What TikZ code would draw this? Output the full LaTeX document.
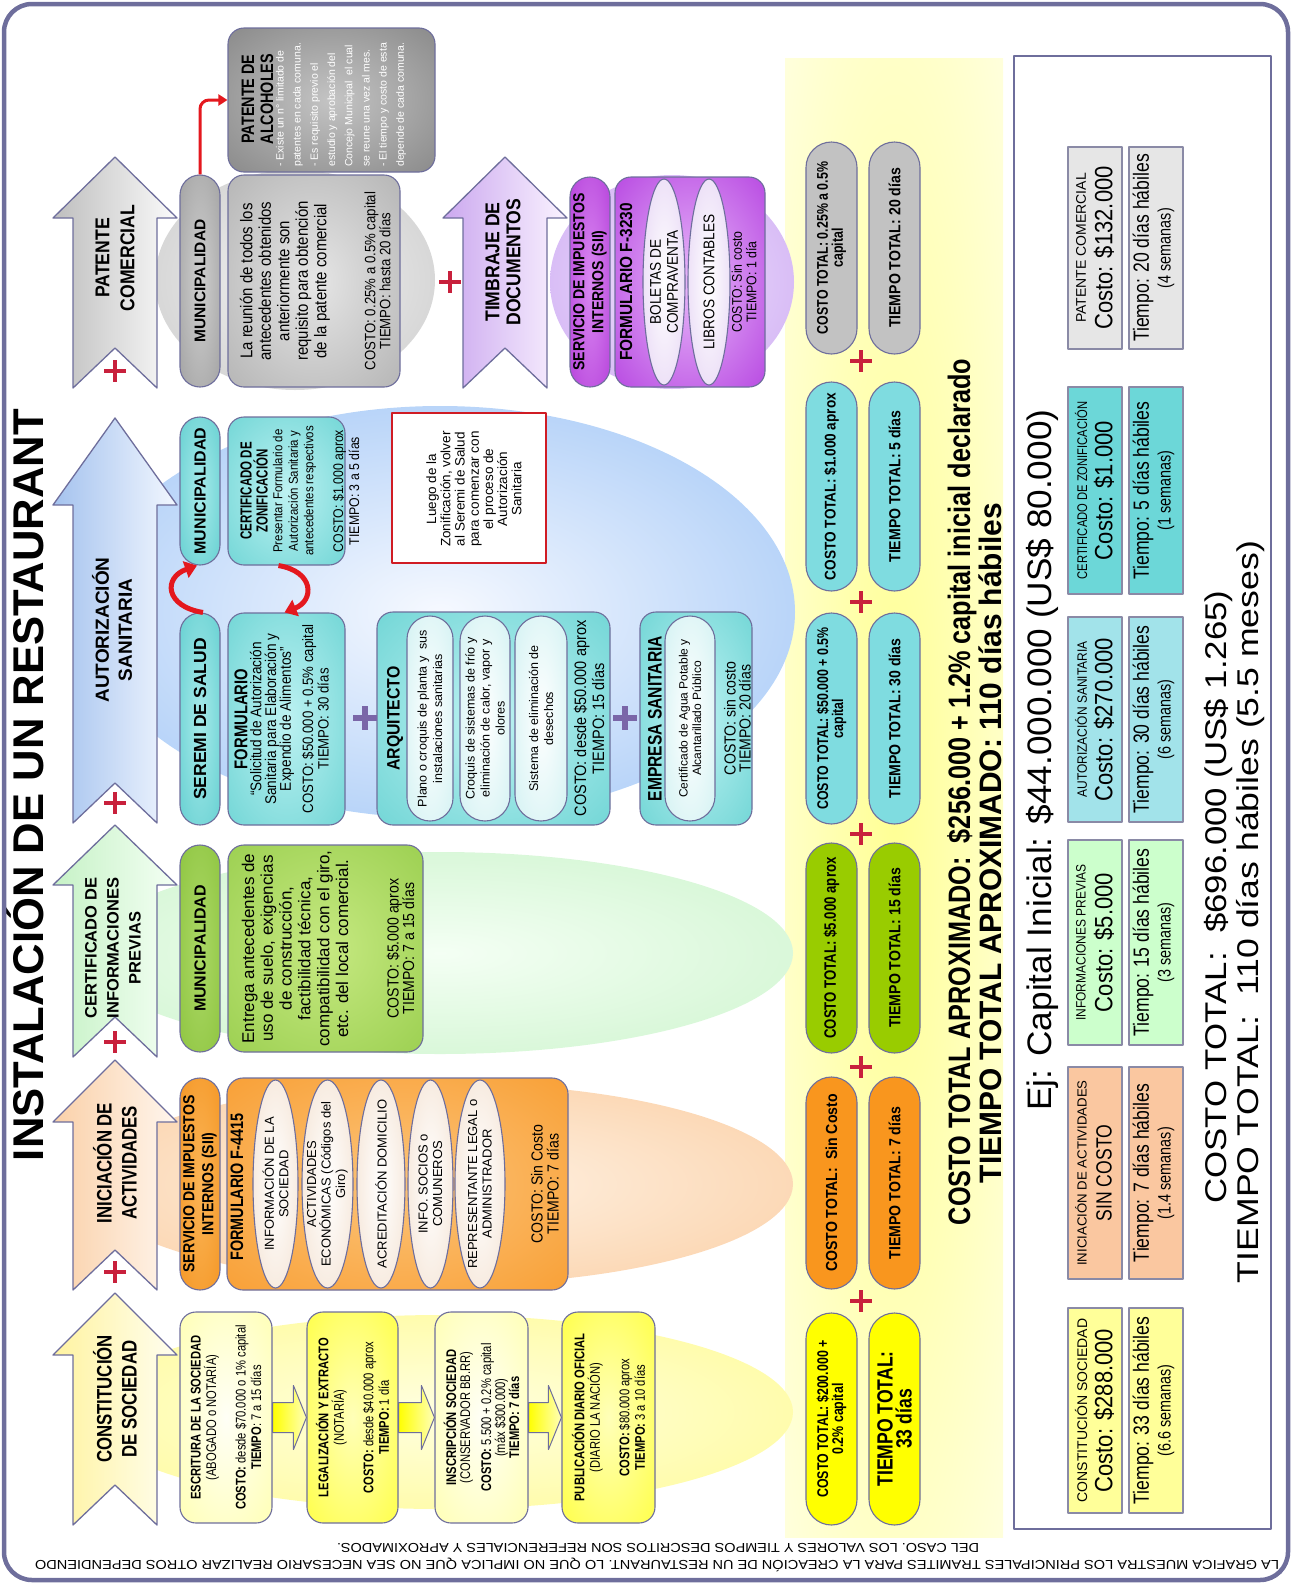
\documentclass[tikz,border=0pt]{standalone}
\usepackage{fontspec}
\usepackage{graphicx}
\setmainfont{Liberation Sans}
\newfontfamily\FA{Liberation Sans}
\newfontfamily\FB{Liberation Sans}[FakeStretch=0.88]
\newfontfamily\FC{Liberation Sans}[FakeStretch=0.8]
\newfontfamily\FD{Liberation Sans}[FakeStretch=0.72]
\usetikzlibrary{shapes.geometric,shapes.misc,calc,arrows.meta}
\newcommand\fsz[2]{\fontsize{#1}{#2}\selectfont}

\definecolor{slate}{HTML}{6E6E9C}
\definecolor{plusred}{HTML}{C8203C}
\definecolor{plusvio}{HTML}{7A66A8}
\definecolor{arred}{HTML}{E4181E}
\definecolor{notered}{HTML}{D01C24}
\definecolor{yeI}{HTML}{FFFFE0}\definecolor{yeO}{HTML}{FFF97A}
\definecolor{oeI}{HTML}{FFF2E4}\definecolor{oeO}{HTML}{F8C08A}
\definecolor{geI}{HTML}{F4FFF4}\definecolor{geO}{HTML}{BFF0BF}
\definecolor{beI}{HTML}{F6F9FF}\definecolor{beO}{HTML}{7CB0F2}
\definecolor{greI}{HTML}{F2F2F2}\definecolor{greO}{HTML}{BDBDBD}
\definecolor{peI}{HTML}{EEDFFC}\definecolor{peO}{HTML}{C49CF0}
\definecolor{totI}{HTML}{FFFF94}\definecolor{totO}{HTML}{FFFFFA}
\definecolor{pyI}{HTML}{FFFFF6}\definecolor{pyO}{HTML}{FFFF9C}
\definecolor{byI}{HTML}{FFFFB8}\definecolor{byO}{HTML}{FFFF1E}
\definecolor{obI}{HTML}{FCC47A}\definecolor{obO}{HTML}{F7921C}
\definecolor{opI}{HTML}{FBB455}\definecolor{opO}{HTML}{F28C14}
\definecolor{gbI}{HTML}{C6E981}\definecolor{gbO}{HTML}{8CC63F}
\definecolor{gpI}{HTML}{ABD865}\definecolor{gpO}{HTML}{84BE34}
\definecolor{tbI}{HTML}{BDF2F2}\definecolor{tbO}{HTML}{55CBCB}
\definecolor{tpI}{HTML}{A6EAEA}\definecolor{tpO}{HTML}{4EC6C8}
\definecolor{gybI}{HTML}{E6E6E6}\definecolor{gybO}{HTML}{A2A2A2}
\definecolor{gypI}{HTML}{CFCFCF}\definecolor{gypO}{HTML}{929292}
\definecolor{alI}{HTML}{C4C4C4}\definecolor{alO}{HTML}{737373}
\definecolor{pbI}{HTML}{E8B8FA}\definecolor{pbO}{HTML}{A51FD8}
\definecolor{ppI}{HTML}{DA88F2}\definecolor{ppO}{HTML}{A828D2}
\definecolor{woO}{HTML}{F0D8C2}
\definecolor{wtO}{HTML}{C2EDEE}
\definecolor{wpO}{HTML}{DCC4F0}
\definecolor{tyel}{HTML}{FFFF00}
\definecolor{tora}{HTML}{F9961E}
\definecolor{tgre}{HTML}{99CC00}
\definecolor{tcya}{HTML}{7FDCE0}
\definecolor{tgra}{HTML}{C2C2C2}
\definecolor{sY}{HTML}{FFFF99}
\definecolor{sP}{HTML}{FAC7A0}
\definecolor{sG}{HTML}{CCFFCC}
\definecolor{sC}{HTML}{A2E3EA}
\definecolor{sT}{HTML}{6CD7D8}
\definecolor{sGr}{HTML}{E6E6E6}
\definecolor{sumline}{HTML}{8A8AA6}
\definecolor{arY1}{HTML}{FFF3A0}\definecolor{arY2}{HTML}{FFFEF0}
\definecolor{arO1}{HTML}{FAD0A8}\definecolor{arO2}{HTML}{FFF6EE}
\definecolor{arG1}{HTML}{C6F2C6}\definecolor{arG2}{HTML}{F4FFF4}
\definecolor{arB1}{HTML}{A4C2EE}\definecolor{arB2}{HTML}{F2F7FF}
\definecolor{arGy1}{HTML}{BEBEBE}\definecolor{arGy2}{HTML}{FBFBFB}
\definecolor{arP1}{HTML}{CBA8EF}\definecolor{arP2}{HTML}{FAF3FF}

\newcommand\mkrad[3]{\pgfdeclareradialshading{#1}{\pgfpoint{0bp}{0bp}}{color(0bp)=(#2); color(50bp)=(#3)}}
\mkrad{radYE}{yeI}{yeO}
\mkrad{radOE}{oeI}{oeO}
\mkrad{radGE}{geI}{geO}
\mkrad{radBE}{beI}{beO}
\mkrad{radGrE}{greI}{greO}
\mkrad{radPE}{peI}{peO}
\mkrad{radTot}{totI}{totO}
\mkrad{radPY}{pyI}{pyO}
\mkrad{radBY}{byI}{byO}
\mkrad{radOB}{obI}{obO}
\mkrad{radOP}{opI}{opO}
\mkrad{radGB}{gbI}{gbO}
\mkrad{radGP}{gpI}{gpO}
\mkrad{radTB}{tbI}{tbO}
\mkrad{radTP}{tpI}{tpO}
\mkrad{radGyB}{gybI}{gybO}
\mkrad{radGyP}{gypI}{gypO}
\mkrad{radAl}{alI}{alO}
\mkrad{radPB}{pbI}{pbO}
\mkrad{radPP}{ppI}{ppO}
\mkrad{radWO}{white}{woO}
\mkrad{radWT}{white}{wtO}
\mkrad{radWP}{white}{wpO}

\tikzset{
 lbl/.style={rotate=90, align=center, inner sep=0pt},
 ol/.style={draw=slate, line width=1.1pt},
 rbox/.style={rectangle, rounded corners=16pt, ol},
 pill/.style={rounded rectangle, ol},
 ell/.style={ellipse, ol},
 rad/.style={shade, shading=#1},
 bigA/.style 2 args={draw=slate, line width=1.3pt, left color=#1, right color=#2},
 yarr/.style={draw=slate, line width=1pt, left color=tyel, right color=byI},
 redarr/.style={draw=arred, line width=5pt, -{Triangle[length=12pt,width=17pt]}},
 redline/.style={draw=arred, line width=3pt, rounded corners=9pt, -{Triangle[length=9pt,width=11pt]}},
 rplus/.style={draw=plusred, line width=4pt},
 vplus/.style={draw=plusvio, line width=5.5pt},
 tot/.style={rounded rectangle, ol},
 sbox/.style={rectangle, draw=sumline, line width=1.5pt},
}

\newcommand\shp[6]{\node[#6, rotate=90, inner sep=0pt, minimum width={((#5)-(#3))*1pt}, minimum height={((#4)-(#2))*1pt}] (#1) at ({((#2)+(#4))/2},{((#3)+(#5))/2}) {};}
\newcommand\bx[8]{\shp{#1}{#2}{#3}{#4}{#5}{#6}\node[lbl, font={#7}] (#1-t) at (#1.center) {#8};}
\newcommand\bigarr[6]{\draw[#6] (#1,#2) -- ({#1+62},#3) -- ({#1+42},#3) -- ({#1+42},#4) -- (#1,#5) -- ({#1-42},#4) -- ({#1-42},#3) -- ({#1-62},#3) -- cycle;}
\newcommand\pls[4]{\draw[#4] ({#1-#3},#2) -- ({#1+#3},#2) (#1,{#2-#3}) -- (#1,{#2+#3});}
\newcommand\yarrow[2]{\draw[yarr] ($(#1.south)+(0,-15)$) -- ($(#2.north)+(-13,-15)$) -- ($(#2.north)+(-13,-32)$) -- (#2.north) -- ($(#2.north)+(-13,32)$) -- ($(#2.north)+(-13,15)$) -- ($(#1.south)+(0,15)$) -- cycle;}
\newcommand\sumrow[9]{%
 \shp{#1c}{1068}{#2}{1122}{#3}{sbox, fill=#4}
 \node[lbl, font={#5}] (#1c-a) at (1081,{((#2)+(#3))/2}) {#6};
 \node[lbl, font=\FB\fsz{25}{25}] (#1c-b) at (1104,{((#2)+(#3))/2}) {#7};
 \shp{#1t}{1129}{#2}{1183}{#3}{sbox, fill=#4}
 \node[lbl, font=\FC\fsz{22}{22}] (#1t-a) at (1143,{((#2)+(#3))/2}) {#8};
 \node[lbl, font=\FC\fsz{18}{18}] (#1t-b) at (1166,{((#2)+(#3))/2}) {#9};}

\begin{document}
\begin{tikzpicture}[x=1pt,y=-1pt,line join=round]
\useasboundingbox (0,0) rectangle (1295,1585);

% totals background
\shade[shading=radTot] (785,58) rectangle (1003,1537);

% band ellipses
\shade[shading=radYE] (440,1412) ellipse (353 and 97);
\shade[shading=radOE] (440,1184) ellipse (353 and 101);
\shade[shading=radGE] (440,953) ellipse (353 and 101);
\shade[shading=radBE] (440,612) ellipse (355 and 206);
\shade[shading=radGrE] (295,280) ellipse (140 and 110);
\shade[shading=radPE] (672,282) ellipse (122 and 107);

% big arrows
\bigarr{115}{1293}{1355}{1525}{1485}{bigA={arY1}{arY2}}
\bigarr{115}{1060}{1122}{1290}{1250}{bigA={arO1}{arO2}}
\bigarr{115}{825}{885}{1057}{1017}{bigA={arG1}{arG2}}
\bigarr{115}{418}{505}{823}{783}{bigA={arB1}{arB2}}
\bigarr{115}{157}{218}{388}{348}{bigA={arGy1}{arGy2}}
\bigarr{505}{157}{218}{388}{348}{bigA={arP1}{arP2}}
\node[lbl, font=\FC\bfseries\fsz{21}{25}] (lConst) at (115,1399) {CONSTITUCIÓN\\DE SOCIEDAD};
\node[lbl, font=\FC\bfseries\fsz{21}{25}] (lInic) at (115,1163) {INICIACIÓN DE\\ACTIVIDADES};
\node[lbl, font=\FA\bfseries\fsz{16.5}{22}] (lCert) at (113,948) {CERTIFICADO DE\\INFORMACIONES\\PREVIAS};
\node[lbl, font=\FA\bfseries\fsz{19}{23}] (lAuto) at (112,630) {AUTORIZACIÓN\\SANITARIA};
\node[lbl, font=\FB\bfseries\fsz{20}{25}] (lPat) at (115,258) {PATENTE\\COMERCIAL};
\node[lbl, font=\FB\bfseries\fsz{20}{21}] (lTimb) at (503,262) {TIMBRAJE DE\\DOCUMENTOS};
\pls{115}{1272}{11}{rplus}
\pls{115}{1042}{11}{rplus}
\pls{115}{803}{11}{rplus}
\pls{115}{371}{11}{rplus}
\pls{450}{282}{11}{rplus}

% ===== band 1: constitucion
\bx{b1}{180}{1312}{272}{1523}{rbox, rad=radPY}{\FC\fsz{14}{15.5}}{\textbf{ESCRITURA DE LA SOCIEDAD}\\(ABOGADO o NOTARÍA)\\[14pt]\textbf{COSTO:} desde \$70.000 o 1\% capital\\\textbf{TIEMPO}: 7 a 15 días}
\bx{b2}{307}{1312}{398}{1523}{rbox, rad=radBY}{\FC\fsz{14}{15.5}}{\textbf{LEGALIZACIÓN Y EXTRACTO}\\(NOTARÍA)\\[14pt]\textbf{COSTO:} desde \$40.000 aprox\\\textbf{TIEMPO:} 1 día}
\bx{b3}{435}{1312}{528}{1523}{rbox, rad=radPY}{\FC\fsz{14}{14}}{\textbf{INSCRIPCIÓN SOCIEDAD}\\(CONSERVADOR BB.RR)\\[7pt]\textbf{COSTO:} 5.500 + 0.2\% capital\\(máx \$300.000)\\\textbf{TIEMPO: 7 días}}
\bx{b4}{562}{1312}{655}{1523}{rbox, rad=radBY}{\FC\fsz{14}{15.5}}{\textbf{PUBLICACIÓN DIARIO OFICIAL}\\(DIARIO LA NACIÓN)\\[14pt]\textbf{COSTO:} \$80.000 aprox\\\textbf{TIEMPO:} 3 a 10 días}
\yarrow{b1}{b2}
\yarrow{b2}{b3}
\yarrow{b3}{b4}

% ===== band 2: iniciacion
\bx{sii}{180}{1078}{220}{1290}{pill, rad=radOP}{\FB\bfseries\fsz{16}{19}}{SERVICIO DE IMPUESTOS\\INTERNOS (SII)}
\shp{f44}{227}{1078}{568}{1290}{rbox, rad=radOB}
\node[lbl, font=\FC\bfseries\fsz{18}{18}] (f44-t) at (237,1187) {FORMULARIO F-4415};
\bx{i1}{253}{1080}{298}{1288}{ell, rad=radWO}{\FA\fsz{13}{14.5}}{INFORMACIÓN DE LA\\SOCIEDAD}
\bx{i2}{302}{1080}{353}{1288}{ell, rad=radWO}{\FA\fsz{13}{14.5}}{ACTIVIDADES\\ECONÓMICAS (Códigos del\\Giro)}
\bx{i3}{357}{1080}{405}{1288}{ell, rad=radWO}{\FA\fsz{13}{14.5}}{ACREDITACIÓN DOMICILIO}
\bx{i4}{408}{1080}{453}{1288}{ell, rad=radWO}{\FA\fsz{13}{14.5}}{INFO. SOCIOS o\\COMUNEROS}
\bx{i5}{455}{1080}{505}{1288}{ell, rad=radWO}{\FA\fsz{13}{14.5}}{REPRESENTANTE LEGAL o\\ADMINISTRADOR}
\node[lbl, font=\FB\fsz{16}{16}] (f44-c) at (545,1184) {COSTO: Sin Costo\\TIEMPO: 7 días};

% ===== band 3: certificado
\bx{muniC}{180}{845}{220}{1052}{pill, rad=radGP}{\FA\bfseries\fsz{16}{19}}{MUNICIPALIDAD}
\shp{ipb}{228}{845}{423}{1052}{rbox, rad=radGB}
\node[lbl, font=\FA\fsz{17}{18.8}] (ipb-t) at (295,948.5) {Entrega antecedentes de\\uso de suelo, exigencias\\de construcción,\\factibilidad técnica,\\compatibilidad con el giro,\\etc. del local comercial.};
\node[lbl, font=\FB\fsz{16}{15.5}] (ipb-c) at (400.5,948.5) {COSTO: \$5.000 aprox\\TIEMPO: 7 a 15 días};

% ===== band 4: autorizacion
\bx{muniA}{180}{417}{220}{565}{pill, rad=radTP}{\FA\bfseries\fsz{16}{19}}{MUNICIPALIDAD}
\bx{seremi}{180}{613}{220}{825}{pill, rad=radTP}{\FA\bfseries\fsz{17.5}{19}}{SEREMI DE SALUD}
\shp{zon}{228}{417}{345}{565}{rbox, rad=radTB}
\node[lbl, font=\FD\bfseries\fsz{16}{16}] (zon-t) at (254,491) {CERTIFICADO DE\\ZONIFICACIÓN};
\node[lbl, font=\FB\fsz{13}{15.5}] (zon-d) at (294.5,491) {Presentar Formulario de\\Autorización Sanitaria y\\antecedentes respectivos};
\node[lbl, font=\FB\fsz{14}{16}] (zon-c) at (346,491) {COSTO: \$1.000 aprox\\TIEMPO: 3 a 5 días};
\shp{form}{228}{613}{345}{825}{rbox, rad=radTB}
\node[lbl, font=\FC\bfseries\fsz{18.5}{18}] (form-t) at (241,719) {FORMULARIO};
\node[lbl, font=\FB\fsz{15.5}{14.8}] (form-d) at (272,719) {“Solicitud de Autorización\\Sanitaria para Elaboración y\\Expendio de Alimentos”};
\node[lbl, font=\FB\fsz{15}{15.5}] (form-c) at (315.5,719) {COSTO: \$50.000 + 0.5\% capital\\TIEMPO: 30 días};
\shp{note}{392}{413}{546}{563}{rectangle, draw=notered, line width=2.6pt, fill=white}
\node[lbl, font=\FA\fsz{13.5}{14.2}] (note-t) at (474,489) {Luego de la\\Zonificación, volver\\al Seremi de Salud\\para comenzar con\\el proceso de\\Autorización\\Sanitaria};
\shp{arq}{377}{612}{610}{825}{rbox, rad=radTB}
\node[lbl, font=\FB\bfseries\fsz{18}{18}] (arq-t) at (395,718.5) {ARQUITECTO};
\bx{a1}{407}{616}{453}{821}{pill, rad=radWT}{\FA\fsz{12.5}{15.5}}{Plano o croquis de planta y\ \ sus\\instalaciones sanitarias}
\bx{a2}{460}{616}{510}{821}{pill, rad=radWT}{\FA\fsz{12.5}{15}}{Croquis de sistemas de frío y\\eliminación de calor, vapor y\\olores}
\bx{a3}{515}{616}{567}{821}{pill, rad=radWT}{\FA\fsz{12.5}{15}}{Sistema de eliminación de\\desechos}
\node[lbl, font=\FB\fsz{16.5}{18}] (arq-c) at (589,718.5) {COSTO: desde \$50.000 aprox\\TIEMPO: 15 días};
\shp{emp}{640}{612}{752}{825}{rbox, rad=radTB}
\node[lbl, font=\FC\bfseries\fsz{19.5}{19}] (emp-t) at (655,718.5) {EMPRESA SANITARIA};
\bx{e1}{665}{616}{715}{821}{pill, rad=radWT}{\FA\fsz{12}{13.5}}{Certificado de Agua Potable y\\Alcantarillado Público}
\node[lbl, font=\FB\fsz{16}{15}] (emp-c) at (737.5,718.5) {COSTO: sin costo\\TIEMPO: 20 días};
\pls{365}{718}{12}{vplus}
\pls{625}{718}{12}{vplus}
\draw[redarr] ($(seremi.east)+(3,0)$) .. controls +(-38,-6) and +(-34,12) .. ($(muniA.west)+(-3,0)$);
\draw[redarr] ($(zon.west)+(-8,0)$) .. controls +(36,6) and +(30,-12) .. ($(form.east)+(-2,0)$);

% ===== band 5: patente
\bx{muniP}{180}{175}{220}{387}{pill, rad=radGyP}{\FA\bfseries\fsz{15.5}{19}}{MUNICIPALIDAD}
\shp{pat}{228}{175}{400}{387}{rbox, rad=radGyB}
\node[lbl, font=\FB\fsz{17}{18.5}] (pat-t) at (285,281) {La reunión de todos los\\antecedentes obtenidos\\anteriormente son\\requisito para obtención\\de la patente comercial};
\node[lbl, font=\FB\fsz{15}{15}] (pat-c) at (377.5,281) {COSTO: 0.25\% a 0.5\% capital\\TIEMPO: hasta 20 días};
\shp{alc}{228}{28}{435}{172}{rbox, rad=radAl}
\node[lbl, font=\FC\bfseries\fsz{18}{19}] (alc-t) at (257.5,99) {PATENTE DE\\ALCOHOLES};
\node[rotate=90, align=left, inner sep=0pt, anchor=west, text=white, font=\FA\fsz{10.5}{17.2}] (alc-d) at (341,167) {- Existe un n° limitado de\\patentes en cada comuna.\\- Es requisito previo el\\estudio y aprobación del\\Concejo Municipal\ \ el cual\\se reune una vez al mes.\\- El tiempo y costo de esta\\depende de cada comuna.};
\draw[redline] (muniP.east) |- (alc.north);

% ===== timbraje
\bx{siiT}{570}{177}{610}{387}{pill, rad=radPP}{\FB\bfseries\fsz{16}{19}}{SERVICIO DE IMPUESTOS\\INTERNOS (SII)}
\shp{f32}{615}{177}{765}{387}{rbox, rad=radPB}
\node[lbl, font=\FB\bfseries\fsz{17.5}{18}] (f32-t) at (626,282) {FORMULARIO F-3230};
\bx{t1}{643}{179}{685}{385}{ell, rad=radWP}{\FB\fsz{15.5}{17}}{BOLETAS DE\\COMPRAVENTA}
\bx{t2}{688}{179}{730}{385}{ell, rad=radWP}{\FB\fsz{15.5}{17}}{LIBROS CONTABLES}
\node[lbl, font=\FB\fsz{14}{14.5}] (f32-c) at (744,282) {COSTO: Sin costo\\TIEMPO: 1 día};

% ===== totals
\bx{cT1}{806}{1313}{857}{1525}{tot, fill=tyel}{\FC\bfseries\fsz{15.5}{15}}{COSTO TOTAL: \$200.000 +\\0.2\% capital}
\bx{tT1}{869}{1313}{920}{1525}{tot, fill=tyel}{\FC\bfseries\fsz{22}{19}}{TIEMPO TOTAL:\\33 días}
\bx{cT2}{806}{1077}{857}{1289}{tot, fill=tora}{\FB\bfseries\fsz{16}{16}}{COSTO TOTAL:\ \ Sin Costo}
\bx{tT2}{869}{1077}{920}{1289}{tot, fill=tora}{\FB\bfseries\fsz{16}{16}}{TIEMPO TOTAL: 7 días}
\bx{cT3}{806}{843}{857}{1053}{tot, fill=tgre}{\FC\bfseries\fsz{16.5}{16}}{COSTO TOTAL: \$5.000 aprox}
\bx{tT3}{869}{843}{920}{1053}{tot, fill=tgre}{\FB\bfseries\fsz{16}{16}}{TIEMPO TOTAL: 15 días}
\bx{cT4}{806}{613}{857}{824}{tot, fill=tcya}{\FC\bfseries\fsz{15.5}{15}}{COSTO TOTAL: \$50.000 + 0.5\%\\capital}
\bx{tT4}{869}{613}{920}{824}{tot, fill=tcya}{\FB\bfseries\fsz{16}{16}}{TIEMPO TOTAL: 30 días}
\bx{cT5}{806}{382}{857}{591}{tot, fill=tcya}{\FB\bfseries\fsz{15.5}{16}}{COSTO TOTAL: \$1.000 aprox}
\bx{tT5}{869}{382}{920}{591}{tot, fill=tcya}{\FB\bfseries\fsz{16}{16}}{TIEMPO TOTAL: 5 días}
\bx{cT6}{806}{142}{857}{354}{tot, fill=tgra}{\FC\bfseries\fsz{15.5}{15}}{COSTO TOTAL: 0.25\% a 0.5\%\\capital}
\bx{tT6}{869}{142}{920}{354}{tot, fill=tgra}{\FB\bfseries\fsz{16}{16}}{TIEMPO TOTAL: 20 días}
\pls{861}{1301}{11}{rplus}
\pls{861}{1067}{11}{rplus}
\pls{861}{834}{11}{rplus}
\pls{861}{602}{11}{rplus}
\pls{861}{361}{11}{rplus}

% summary lines
\node[rotate=90, anchor=base, inner sep=0pt, font=\FA\bfseries\fsz{31}{31}] (totA) at (970,792) {\resizebox{866pt}{\height}{COSTO TOTAL APROXIMADO:\ \ \$256.000 + 1.2\% capital inicial declarado}};
\node[rotate=90, anchor=base, inner sep=0pt, font=\FA\bfseries\fsz{31}{31}] (totB) at (1001,843) {\resizebox{680pt}{\height}{TIEMPO TOTAL APROXIMADO:\ 110 días hábiles}};

% summary box
\shp{sumbox}{1014}{56}{1271}{1529}{rectangle, draw=slate, line width=2.8pt, fill=white}
\node[rotate=90, anchor=base, inner sep=0pt, font=\FA\fsz{34}{34}] (ej) at (1051,760) {\resizebox{701pt}{\height}{Ej: Capital Inicial: \$44.000.000 (US\$ 80.000)}};
\sumrow{sc}{1308}{1513}{sY}{\FA\fsz{14}{14}}{CONSTITUCIÓN SOCIEDAD}{Costo: \$288.000}{Tiempo: 33 días hábiles}{(6.6 semanas)}
\sumrow{si}{1067}{1279}{sP}{\FA\fsz{13.2}{14}}{INICIACIÓN DE ACTIVIDADES}{{\FC\fsz{22}{22}SIN COSTO}}{Tiempo: 7 días hábiles}{(1.4 semanas)}
\sumrow{sf}{840}{1045}{sG}{\FB\fsz{13.6}{14}}{INFORMACIONES PREVIAS}{Costo: \$5.000}{Tiempo: 15 días hábiles}{(3 semanas)}
\sumrow{sa}{617}{822}{sC}{\FB\fsz{13.6}{14}}{AUTORIZACIÓN SANITARIA}{Costo: \$270.000}{Tiempo: 30 días hábiles}{(6 semanas)}
\sumrow{sz}{387}{594}{sT}{\FC\fsz{14}{14}}{CERTIFICADO DE ZONIFICACIÓN}{Costo: \$1.000}{Tiempo: 5 días hábiles}{(1 semanas)}
\sumrow{sp}{147}{349}{sGr}{\FA\fsz{14}{14}}{PATENTE COMERCIAL}{Costo: \$132.000}{Tiempo: 20 días hábiles}{(4 semanas)}
\node[rotate=90, anchor=base, inner sep=0pt, font=\FA\fsz{30}{30}] (grandC) at (1226,897) {\resizebox{613pt}{\height}{COSTO TOTAL:\ \ \$696.000 (US\$ 1.265)}};
\node[rotate=90, anchor=base, inner sep=0pt, font=\FA\fsz{30}{30}] (grandT) at (1258,912) {\resizebox{742pt}{\height}{TIEMPO TOTAL:\ \ 110 días hábiles (5.5 meses)}};

% title
\node[rotate=90, anchor=base, inner sep=0pt, font=\FA\bfseries\fsz{43}{43}] (title) at (43,785) {\resizebox{752pt}{\height}{INSTALACIÓN DE UN RESTAURANT}};

% caption (upside down)
\node[rotate=180, anchor=base, inner sep=0pt, font=\FA\fsz{13}{13}] (cap1) at (657,1560) {\resizebox{1244pt}{\height}{LA GRAFICA MUESTRA LOS PRINCIPALES TRAMITES PARA LA CREACIÓN DE UN RESTAURANT. LO QUE NO IMPLICA QUE NO SEA NECESARIO REALIZAR OTROS DEPENDIENDO}};
\node[rotate=180, anchor=base, inner sep=0pt, font=\FA\fsz{13}{13}] (cap2) at (658,1543) {\resizebox{642pt}{\height}{DEL CASO. LOS VALORES Y TIEMPOS DESCRITOS SON REFERENCIALES Y APROXIMADOS.}};

% outer frame
\draw[draw=slate, line width=4.5pt, rounded corners=28pt] (4,4) rectangle (1288,1580);
\end{tikzpicture}
\end{document}
